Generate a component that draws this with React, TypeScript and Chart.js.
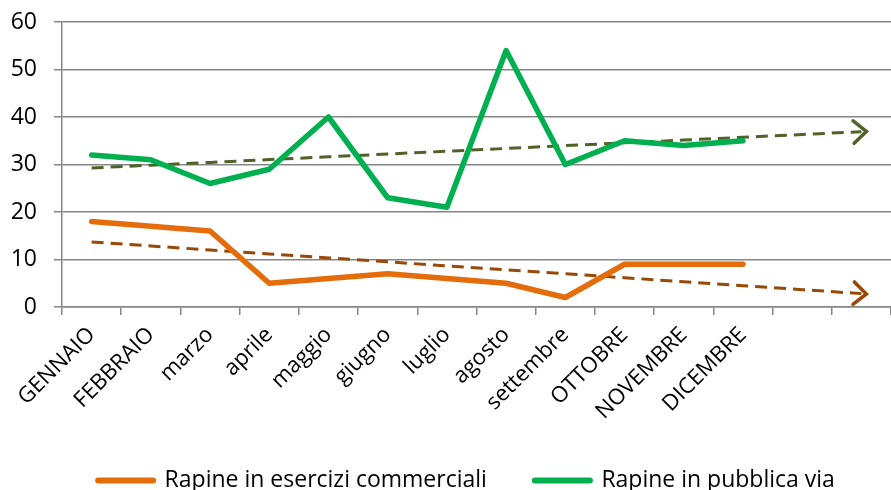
import React, { useEffect, useRef } from "react";
import { Chart, registerables } from "chart.js";

Chart.register(...registerables);

const categories = [
  "GENNAIO", "FEBBRAIO", "marzo", "aprile", "maggio", "giugno",
  "luglio", "agosto", "settembre", "OTTOBRE", "NOVEMBRE", "DICEMBRE", "", "",
];
const commerciali = [18, 17, 16, 5, 6, 7, 6, 5, 2, 9, 9, 9];
const pubblicaVia = [32, 31, 26, 29, 40, 23, 21, 54, 30, 35, 34, 35];
const yTicks = [0, 10, 20, 30, 40, 50, 60];

function trend(values: number[], n: number): number[] {
  const m = values.length;
  const xs = values.map((_, i) => i + 1);
  const mx = xs.reduce((a, b) => a + b, 0) / m;
  const my = values.reduce((a, b) => a + b, 0) / m;
  let sxy = 0, sxx = 0;
  for (let i = 0; i < m; i++) {
    sxy += (xs[i] - mx) * (values[i] - my);
    sxx += (xs[i] - mx) * (xs[i] - mx);
  }
  const slope = sxy / sxx;
  const out: number[] = [];
  for (let x = 1; x <= n; x++) out.push(my + slope * (x - mx));
  return out;
}

const arrowPlugin = {
  id: "arrowHeads",
  afterLayout(chart: any) {
    if (chart.legend) {
      chart.legend.left += 16;
      chart.legend.right += 16;
    }
  },
  afterDatasetsDraw(chart: any) {
    const ctx = chart.ctx;
    chart.data.datasets.forEach((ds: any, i: number) => {
      if (!ds.isTrend) return;
      const meta = chart.getDatasetMeta(i);
      const pts = meta.data;
      const a = pts[pts.length - 2];
      const b = pts[pts.length - 1];
      const ang = Math.atan2(b.y - a.y, b.x - a.x);
      const tx = b.x + 5 * Math.cos(ang);
      const ty = b.y + 5 * Math.sin(ang);
      const len = 17;
      const spread = 0.72;
      ctx.save();
      ctx.strokeStyle = ds.borderColor;
      ctx.lineWidth = 3.5;
      ctx.lineCap = "round";
      ctx.lineJoin = "miter";
      ctx.beginPath();
      ctx.moveTo(tx - len * Math.cos(ang - spread), ty - len * Math.sin(ang - spread));
      ctx.lineTo(tx, ty);
      ctx.lineTo(tx - len * Math.cos(ang + spread), ty - len * Math.sin(ang + spread));
      ctx.stroke();
      ctx.restore();
    });
  },
};

export default function App() {
  const ref = useRef<HTMLCanvasElement>(null);
  useEffect(() => {
    document.body.style.margin = "0";
    const n = categories.length;
    const chart = new Chart(ref.current!, {
      type: "line",
      data: {
        labels: categories,
        datasets: [
          {
            label: "Rapine in esercizi commerciali",
            data: commerciali,
            borderColor: "#E46C0A",
            backgroundColor: "#E46C0A",
            borderWidth: 5.5,
            pointRadius: 0,
            borderCapStyle: "round",
            borderJoinStyle: "round",
            tension: 0,
          },
          {
            label: "Rapine in pubblica via",
            data: pubblicaVia,
            borderColor: "#00B050",
            backgroundColor: "#00B050",
            borderWidth: 5.5,
            pointRadius: 0,
            borderCapStyle: "round",
            borderJoinStyle: "round",
            tension: 0,
          },
          {
            label: "trend commerciali",
            data: trend(commerciali, n),
            borderColor: "#984807",
            borderWidth: 3,
            borderDash: [12, 7],
            pointRadius: 0,
            tension: 0,
            isTrend: true,
          } as any,
          {
            label: "trend pubblica via",
            data: trend(pubblicaVia, n),
            borderColor: "#4F6228",
            borderWidth: 3,
            borderDash: [12, 7],
            pointRadius: 0,
            tension: 0,
            isTrend: true,
          } as any,
        ],
      },
      options: {
        animation: false,
        responsive: false,
        maintainAspectRatio: false,
        layout: { padding: { top: 22, right: 0, left: 10, bottom: -12 } },
        plugins: {
          tooltip: { enabled: false },
          legend: {
            position: "bottom",
            labels: {
              filter: (item: any) => item.datasetIndex < 2,
              usePointStyle: true,
              pointStyle: "line",
              pointStyleWidth: 55,
              boxHeight: 6,
              color: "#000",
              padding: 48,
              font: { family: "Open Sans", size: 23 },
              generateLabels: (chart: any) =>
                chart.data.datasets.map((ds: any, i: number) => ({
                  text: ds.label,
                  fillStyle: ds.borderColor,
                  strokeStyle: ds.borderColor,
                  lineWidth: 6,
                  lineCap: "round",
                  pointStyle: "line",
                  hidden: false,
                  datasetIndex: i,
                  fontColor: "#000",
                })),
            },
          },
        },
        scales: {
          x: {
            offset: true,
            afterFit: (s: any) => {
              s.paddingLeft = 0;
              s.paddingRight = 0;
              s.height = 114;
            },
            grid: {
              offset: true,
              drawOnChartArea: false,
              drawTicks: true,
              tickLength: 8,
              color: "#868686",
              lineWidth: 1.5,
            },
            border: { color: "#868686", width: 1.5 },
            ticks: {
              autoSkip: false,
              maxRotation: 45,
              minRotation: 45,
              color: "#000",
              font: { family: "Open Sans", size: 22 },
              padding: 7,
            },
          },
          y: {
            min: 0,
            max: 60,
            afterBuildTicks: (axis: any) => {
              axis.ticks = yTicks.map((v) => ({ value: v }));
            },
            afterFit: (s: any) => {
              s.width = 52;
              s.paddingTop = 0;
              s.paddingBottom = 0;
            },
            grid: {
              color: "#868686",
              lineWidth: 1.5,
              tickLength: 8,
            },
            border: { color: "#868686", width: 1.5 },
            ticks: {
              color: "#000",
              font: { family: "Open Sans", size: 23 },
              padding: 17,
            },
          },
        },
      },
      plugins: [arrowPlugin],
    });
    return () => chart.destroy();
  }, []);
  return <canvas ref={ref} width={891} height={490} style={{ display: "block" }} />;
}
